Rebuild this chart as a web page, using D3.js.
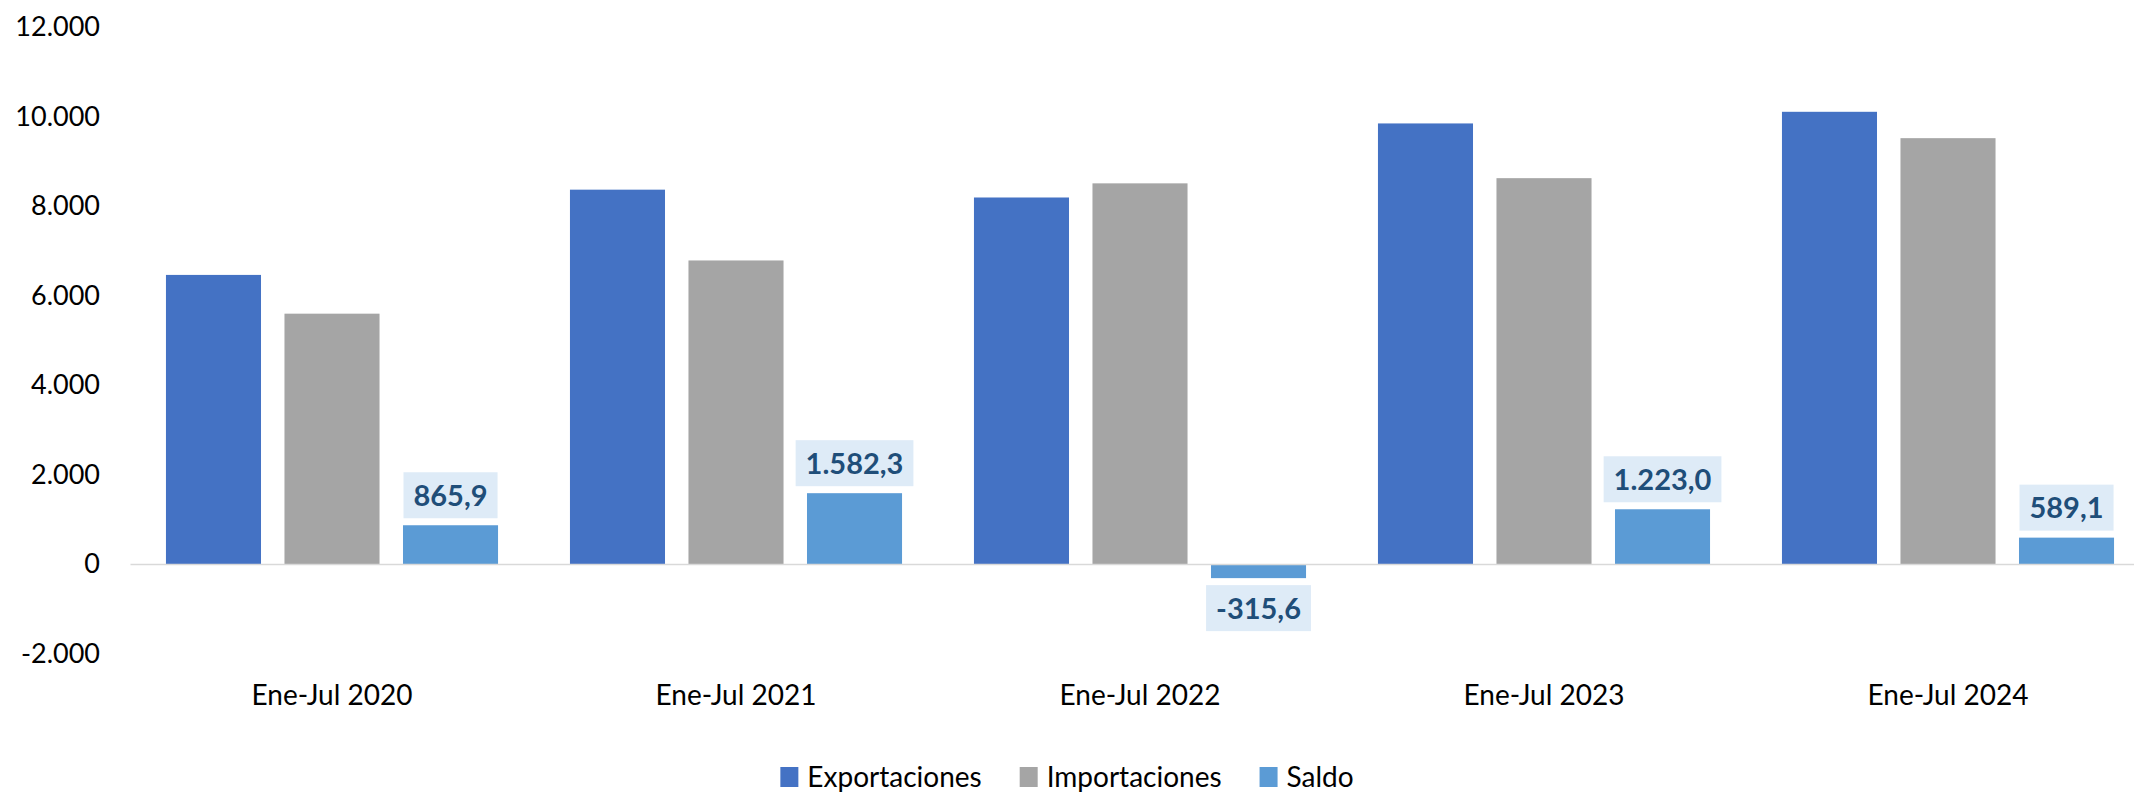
<!DOCTYPE html>
<html>
<head>
<meta charset="utf-8">
<script src="https://cdn.jsdelivr.net/npm/d3@7"></script>
<style>
    body { margin: 0; background: #fff; }
    svg { display: block; font-family: Lato, 'Open Sans', sans-serif; }
</style>
</head>
<body>
<svg></svg>
<script>
const categories = ['Ene-Jul 2020', 'Ene-Jul 2021', 'Ene-Jul 2022', 'Ene-Jul 2023', 'Ene-Jul 2024']
const seriesNames = ['Exportaciones', 'Importaciones', 'Saldo']
const exportaciones = [6460, 8365, 8190, 9845, 10105]
const importaciones = [5594, 6783, 8506, 8622, 9516]
const saldo = [865.9, 1582.3, -315.6, 1223.0, 589.1]
const yTicks = [-2000, 0, 2000, 4000, 6000, 8000, 10000, 12000]
const colors = ['#4472c4', '#a5a5a5', '#5b9bd5']

const width = 2134,
    height = 794

const locale = d3.formatLocale({
    decimal: ',',
    thousands: '.',
    grouping: [3],
    currency: ['', ''],
    minus: '-'
})
const fmtTick = locale.format(',.0f')
const fmtLabel = locale.format(',.1f')

const table = categories.map((c, i) => ({
    cat: c,
    values: [exportaciones[i], importaciones[i], saldo[i]]
}))

const svg = d3.select('svg').attr('width', width).attr('height', height)

const x0 = d3
    .scaleBand()
    .domain(categories)
    .range([130, 2150])
    .paddingInner(0.178)
    .paddingOuter(0.089)
const x1 = d3
    .scaleBand()
    .domain(seriesNames)
    .range([0, x0.bandwidth()])
    .paddingInner(0.198)
const y = d3.scaleLinear().domain([-2000, 12000]).range([653.5, 27])

// y axis labels
const yAxis = svg
    .append('g')
    .attr('transform', 'translate(100,0)')
    .call(d3.axisLeft(y).tickValues(yTicks).tickFormat(fmtTick).tickSize(0).tickPadding(0))
yAxis.select('.domain').remove()
yAxis
    .selectAll('text')
    .attr('font-size', 27)
    .attr('fill', '#000')
    .attr('font-family', 'Lato, sans-serif')

// bars
const groups = svg
    .append('g')
    .selectAll('g')
    .data(table)
    .join('g')
    .attr('transform', (d) => `translate(${x0(d.cat)},0)`)

groups
    .selectAll('rect')
    .data((d) => d.values.map((v, i) => ({ v, s: seriesNames[i], i })))
    .join('rect')
    .attr('x', (d) => x1(d.s))
    .attr('width', x1.bandwidth())
    .attr('y', (d) => y(Math.max(0, d.v)))
    .attr('height', (d) => Math.abs(y(d.v) - y(0)))
    .attr('fill', (d) => colors[d.i])

// x axis (zero line + category labels)
const xAxis = svg
    .append('g')
    .attr('transform', `translate(0,${y(0)})`)
    .call(d3.axisBottom(x0).tickSize(0).tickSizeOuter(0).tickPadding(121))
xAxis.select('.domain').attr('stroke', '#d9d9d9').attr('stroke-width', 1.5)
xAxis
    .selectAll('text')
    .attr('font-size', 28)
    .attr('fill', '#000')
    .attr('font-family', 'Lato, sans-serif')

// data labels for Saldo
const labels = groups
    .append('g')
    .datum((d, i) => saldo[i])
labels.each(function (v) {
    const g = d3.select(this)
    const cx = x1('Saldo') + x1.bandwidth() / 2
    const bx = g.append('rect').attr('fill', '#deebf7')
    const t = g
        .append('text')
        .attr('x', cx)
        .attr('text-anchor', 'middle')
        .attr('font-size', 29)
        .attr('font-weight', 700)
        .attr('fill', '#1f4e79')
        .text(fmtLabel(v))
    const w = t.node().getComputedTextLength() + 20
    const h = 46
    const top = v >= 0 ? y(v) - 7 - h : y(v) + 7
    bx.attr('x', cx - w / 2).attr('y', top).attr('width', w).attr('height', h)
    t.attr('y', top + h / 2).attr('dy', '0.36em')
})

// legend
const legend = svg.append('g')
let lx = 0
const items = legend
    .selectAll('g')
    .data(seriesNames)
    .join('g')
items
    .append('rect')
    .attr('width', 18)
    .attr('height', 20)
    .attr('y', -10)
    .attr('fill', (d, i) => colors[i])
items
    .append('text')
    .attr('x', 27)
    .attr('dy', '0.36em')
    .attr('font-size', 28)
    .attr('fill', '#000')
    .text((d) => d)
items.each(function () {
    const w = this.getBBox().width
    d3.select(this).attr('transform', `translate(${lx},0)`)
    lx += w + 38
})
legend.attr('transform', `translate(${1067 - (lx - 38) / 2},777)`)
</script>
</body>
</html>
